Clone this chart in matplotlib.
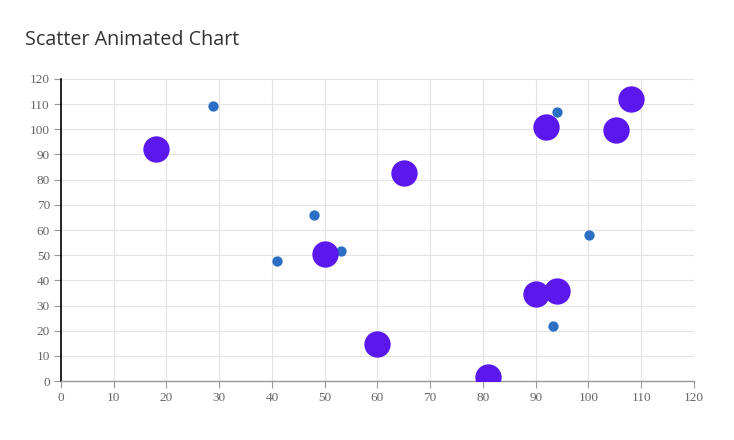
import matplotlib.pyplot as plt

# big bubbles
big_x = [18, 50, 65, 60, 81, 90, 94, 92, 105.3, 108]
big_y = [92, 50.5, 82.6, 14.7, 1.5, 34.6, 35.9, 101, 99.7, 112]

# small dots
small_x = [28.8, 40.9, 48, 53.1, 94.1, 93.3, 100.1]
small_y = [109.3, 47.7, 66, 51.6, 106.9, 21.9, 58]

ticks = list(range(0, 121, 10))

fig = plt.figure(figsize=(7.34, 4.4), dpi=100)
ax = fig.add_axes([0.0831, 0.134, 0.8624, 0.6865])

ax.scatter(small_x, small_y, s=55, color='#2a6fc4', zorder=3, linewidths=0)
ax.scatter(big_x, big_y, s=360, color='#5b18ee', zorder=3, linewidths=0)

ax.set_xlim(0, 120)
ax.set_ylim(0, 120)
ax.set_xticks(ticks)
ax.set_yticks(ticks)
ax.grid(True, color='#e3e3e3', linewidth=0.8)
ax.set_axisbelow(True)

for side in ['top', 'right']:
    ax.spines[side].set_visible(False)
ax.spines['left'].set_color('black')
ax.spines['left'].set_linewidth(1.2)
ax.spines['bottom'].set_color('#999999')
ax.spines['bottom'].set_linewidth(1)

ax.tick_params(axis='both', colors='#999999', labelcolor='#666666', length=5, width=0.8,
               labelsize=9.5, pad=3)
for lbl in ax.get_xticklabels() + ax.get_yticklabels():
    lbl.set_family('Liberation Serif')

fig.text(25 / 734, 1 - 40 / 440, 'Scatter Animated Chart', fontsize=14.2, color='#333333',
         family='Open Sans', va='center', ha='left')

fig.savefig('out.png', dpi=100, facecolor='white')
